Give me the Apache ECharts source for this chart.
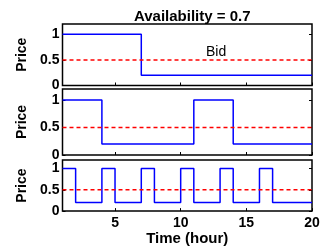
<!DOCTYPE html>
<html>
<head>
<meta charset="utf-8">
<script src="https://cdn.jsdelivr.net/npm/echarts@6/dist/echarts.min.js"></script>
<style>
  html, body { margin: 0; padding: 0; background: #fff; }
  #chart { width: 326px; height: 247px; }
</style>
</head>
<body>
<div id="chart"></div>
<script>
  // breakpoints (hour) and price held until the next breakpoint
  const hours1 = [1, 7, 20];
  const price1 = [1, 0.2, 0.2];
  const hours2 = [1, 4, 11, 14, 20];
  const price2 = [1, 0.2, 1, 0.2, 0.2];
  const hours3 = [1, 2, 4, 5, 7, 8, 10, 11, 13, 14, 16, 17, 20];
  const price3 = [1, 0.2, 1, 0.2, 1, 0.2, 1, 0.2, 1, 0.2, 1, 0.2, 0.2];
  const bidPrice = 0.5;
  const hourRange = [1, 20];
  const xTicks = [5, 10, 15, 20];
  const yTicks = [0, 0.5, 1];
  const titleText = 'Availability = 0.7';

  const font = 'Liberation Sans, Arial, sans-serif';
  const grids = [
    { left: 62.5, right: 14, top: 24, height: 61.5 },
    { left: 62.5, right: 14, top: 89, height: 66 },
    { left: 62.5, right: 14, top: 160, height: 58.5 }
  ];

  let chart = echarts.init(document.getElementById('chart'));

  let xAxis = [];
  let yAxis = [];
  let series = [];
  const stairs = [[hours1, price1], [hours2, price2], [hours3, price3]];

  grids.forEach((g, i) => {
    const last = i === grids.length - 1;
    xAxis.push({
      type: 'value', gridIndex: i, min: hourRange[0], max: hourRange[1],
      axisLine: { show: false },
      splitLine: { show: false },
      axisTick: { show: true, inside: true, length: 3, customValues: xTicks, lineStyle: { color: '#000' } },
      axisLabel: {
        show: last, customValues: xTicks, margin: 5,
        color: '#000', fontWeight: 'bold', fontSize: 14, fontFamily: font
      },
      name: last ? 'Time (hour)' : '',
      nameLocation: 'middle', nameGap: 12,
      nameTextStyle: { color: '#000', fontWeight: 'bold', fontSize: 15, fontFamily: font }
    });
    yAxis.push({
      type: 'value', gridIndex: i, min: 0, max: 1.2,
      axisLine: { show: false },
      splitLine: { show: false },
      axisTick: { show: true, inside: true, length: 3, customValues: yTicks, lineStyle: { color: '#000' } },
      axisLabel: {
        customValues: yTicks, margin: 3,
        color: '#000', fontWeight: 'bold', fontSize: 14, fontFamily: font
      },
      name: 'Price', nameLocation: 'middle', nameGap: 29, nameRotate: 90,
      nameTextStyle: { color: '#000', fontWeight: 'bold', fontSize: 14, fontFamily: font }
    });
    yAxis.push({
      type: 'value', gridIndex: i, min: 0, max: 1.2, position: 'right',
      axisLine: { show: false },
      splitLine: { show: false },
      axisTick: { show: true, inside: true, length: 3, customValues: yTicks, lineStyle: { color: '#000' } },
      axisLabel: { show: false }
    });

    const h = stairs[i][0], p = stairs[i][1];
    series.push({
      type: 'line', xAxisIndex: i, yAxisIndex: i * 2, step: 'end',
      data: h.map((x, k) => [x, p[k]]),
      showSymbol: false, silent: true, animation: false,
      lineStyle: { color: '#0000ff', width: 1.5 }
    });
    let bid = {
      type: 'line', xAxisIndex: i, yAxisIndex: i * 2,
      data: [[hourRange[0], bidPrice], [hourRange[1], bidPrice]],
      showSymbol: false, silent: true, animation: false,
      lineStyle: { color: '#ff0000', width: 1.5, type: [4, 3] }
    };
    if (i === 0) {
      bid.markPoint = {
        symbolSize: 0,
        data: [{ coord: [12.7, 0.65] }],
        label: { show: true, formatter: 'Bid', color: '#000', fontSize: 14, fontFamily: font }
      };
    }
    series.push(bid);
  });

  let option = {
    backgroundColor: '#fff',
    animation: false,
    title: {
      text: titleText, left: 187.25, top: 4, textAlign: 'center',
      textStyle: { color: '#000', fontWeight: 'bold', fontSize: 15, fontFamily: font }
    },
    grid: grids.map(g => Object.assign({ show: true, borderColor: '#000', borderWidth: 1.5, backgroundColor: 'transparent' }, g)),
    xAxis: xAxis,
    yAxis: yAxis,
    series: series
  };
  chart.setOption(option);
</script>
</body>
</html>
